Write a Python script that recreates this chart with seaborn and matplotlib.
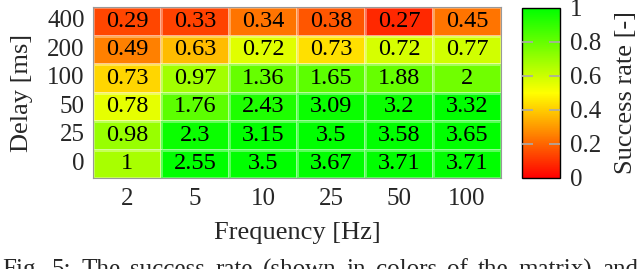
import numpy as np
import pandas as pd
import matplotlib
matplotlib.use("Agg")
import matplotlib.pyplot as plt
import seaborn as sns
from matplotlib.colors import LinearSegmentedColormap

sns.set_style("white")
plt.rcParams['font.family'] = ['Liberation Serif', 'DejaVu Serif']

# Data
frequencies = ['2', '5', '10', '25', '50', '100']
delays = ['400', '200', '100', '50', '25', '0']

# success rate (cell colours)
success = [
    [0.14, 0.13, 0.23, 0.17, 0.08, 0.23],
    [0.25, 0.37, 0.56, 0.44, 0.58, 0.59],
    [0.42, 0.68, 0.80, 0.82, 0.80, 0.78],
    [0.55, 0.82, 0.94, 0.98, 0.98, 1.00],
    [0.70, 0.98, 1.00, 1.00, 1.00, 1.00],
    [0.67, 1.00, 1.00, 1.00, 1.00, 1.00],
]

# numbers printed in the cells
cell_text = [
    ['0.29', '0.33', '0.34', '0.38', '0.27', '0.45'],
    ['0.49', '0.63', '0.72', '0.73', '0.72', '0.77'],
    ['0.73', '0.97', '1.36', '1.65', '1.88', '2'],
    ['0.78', '1.76', '2.43', '3.09', '3.2', '3.32'],
    ['0.98', '2.3', '3.15', '3.5', '3.58', '3.65'],
    ['1', '2.55', '3.5', '3.67', '3.71', '3.71'],
]

caption = 'Fig. 5: The success rate (shown in colors of the matrix) and'

df = pd.DataFrame(success, index=delays, columns=frequencies)

cmap = LinearSegmentedColormap.from_list(
    'ryg', [(0.0, '#ff0000'), (0.5, '#ffff00'), (1.0, '#00ff00')])

fig = plt.figure(figsize=(6.4, 2.69), dpi=100)
ax = fig.add_axes([93/640, 1 - 178/269, (501-93)/640, (178-7)/269])
cax = fig.add_axes([522/640, 1 - 178/269, (560-522)/640, (178-8)/269])

sns.heatmap(df, ax=ax, cbar_ax=cax, cmap=cmap, vmin=0, vmax=1,
            annot=np.array(cell_text), fmt='', annot_kws={'fontsize': 17.5, 'color': 'black'},
            linewidths=0.8, linecolor=(1, 1, 1, 0.35))

ax.set_xlabel('Frequency [Hz]', fontsize=19, labelpad=9)
ax.set_ylabel('Delay [ms]', fontsize=19, labelpad=10)
ax.tick_params(axis='both', length=0, labelsize=18)
ax.tick_params(axis='x', pad=7)
ax.tick_params(axis='y', pad=6, rotation=0)
for s in ax.spines.values():
    s.set_visible(True)
    s.set_color('#999999')
    s.set_linewidth(0.8)

cbar = ax.collections[0].colorbar
cbar.set_ticks([0, 0.2, 0.4, 0.6, 0.8, 1])
cbar.set_ticklabels(['0', '0.2', '0.4', '0.6', '0.8', '1'])
cax.set_axisbelow(False)
cax.tick_params(labelsize=18, direction='in', left=True, right=True,
                length=8, color='#aaaaaa', width=1.2, pad=7)
# hide the tick marks sitting on the frame at 0 and 1
for tk in [cax.yaxis.get_major_ticks()[0], cax.yaxis.get_major_ticks()[-1]]:
    tk.tick1line.set_visible(False)
    tk.tick2line.set_visible(False)
cbar.outline.set_visible(True)
cbar.outline.set_edgecolor('black')
cbar.outline.set_linewidth(1)
cbar.set_label('Success rate [-]', fontsize=19, labelpad=10)

# caption line, justified over the full width and clipped by the bottom edge
words = caption.split()
renderer = fig.canvas.get_renderer()
texts = [fig.text(0, -0.005, w, fontsize=18, ha='left', va='center') for w in words]
fig_w = fig.bbox.width
wpx = [t.get_window_extent(renderer).width for t in texts]
left, right = 2.0, fig_w - 2.0
gap = (right - left - sum(wpx)) / (len(words) - 1)
x = left
for t, w in zip(texts, wpx):
    t.set_x(x / fig_w)
    x += w + gap

fig.savefig('out.png', dpi=100)
